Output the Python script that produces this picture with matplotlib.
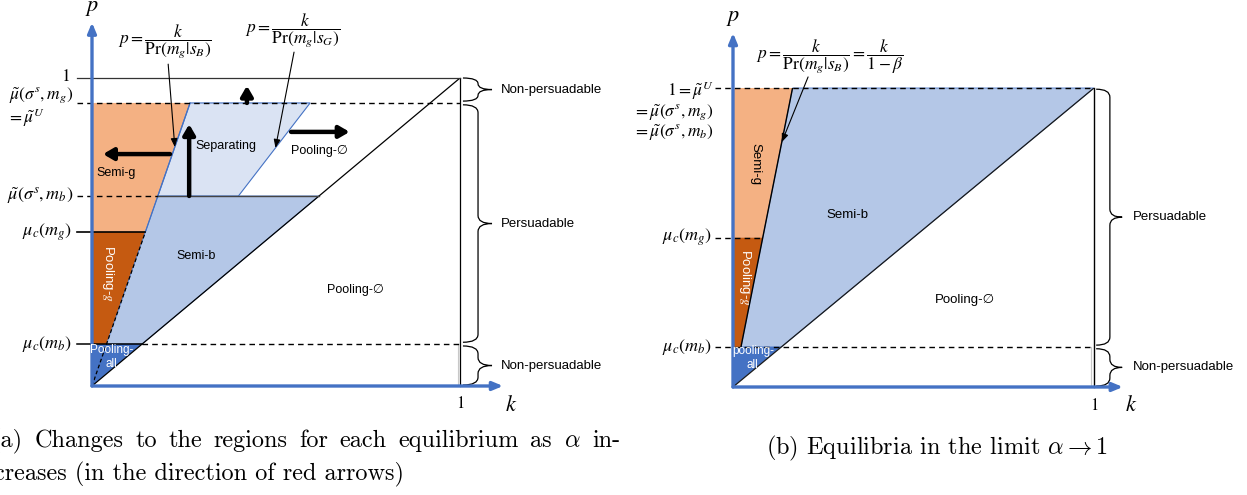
import matplotlib
matplotlib.use("Agg")
import matplotlib.pyplot as plt
from matplotlib.patches import Polygon, PathPatch
from matplotlib.path import Path

plt.rcParams["mathtext.fontset"] = "stix"
plt.rcParams["axes.unicode_minus"] = False

SANS = ["Liberation Sans", "DejaVu Sans"]

# ---- panel (a): levels of p and slopes of the two k-lines
p_one_a = 1.0
mu_U_a = 0.919        # mu~(sigma^s, m_g) = mu~^U
mu_s_mb_a = 0.617     # mu~(sigma^s, m_b)
mu_c_mg_a = 0.50
mu_c_mb_a = 0.136
pr_mg_sB_a = 0.29     # p = k / Pr(m_g|s_B)
pr_mg_sG_a = 0.645    # p = k / Pr(m_g|s_G)

# ---- panel (b): alpha -> 1
mu_U_b = 1.0
mu_c_mg_b = 0.50
mu_c_mb_b = 0.134
pr_mg_sB_b = 0.165    # 1 - beta

C_SEMI_G = "#F4B183"
C_POOL_G = "#C55A11"
C_SEMI_B = "#B4C7E7"
C_SEP = "#DAE3F3"
C_ALL = "#4472C4"
C_AXIS = "#4472C4"

TICK_FS = 13
W, H = 1247, 495
fig = plt.figure(figsize=(W / 100, H / 100), dpi=100)


def poly(ax, pts, fc, ec="none", lw=0.6):
    ax.add_patch(Polygon(pts, closed=True, fc=fc, ec=ec, lw=lw, clip_on=False, zorder=1))


def hline(ax, y, x0, x1, dashed=False, color="black", lw=1.0, z=3):
    ax.plot([x0, x1], [y, y], color=color, lw=lw, ls=(0, (4, 3)) if dashed else "-",
            clip_on=False, zorder=z)


def brace(ax, x0, xs, xt, y_top, y_bot, r):
    r = min(r, (y_top - y_bot) / 4)
    ym = (y_top + y_bot) / 2
    verts = [(x0, y_top), (xs, y_top), (xs, y_top - r),
             (xs, ym + r), (xs, ym), (xt, ym),
             (xs, ym), (xs, ym - r),
             (xs, y_bot + r), (xs, y_bot), (x0, y_bot)]
    codes = [Path.MOVETO, Path.CURVE3, Path.CURVE3,
             Path.LINETO, Path.CURVE3, Path.CURVE3,
             Path.CURVE3, Path.CURVE3,
             Path.LINETO, Path.CURVE3, Path.CURVE3]
    ax.add_patch(PathPatch(Path(verts, codes), fc="none", ec="black", lw=0.9,
                           clip_on=False, zorder=4))
    return ym


def thick_arrow(ax, start, end):
    ax.annotate("", xy=end, xytext=start, annotation_clip=False,
                arrowprops=dict(arrowstyle="-|>,head_width=0.35,head_length=0.6",
                                lw=3.2, color="black", shrinkA=0, shrinkB=0), zorder=6)


def thin_arrow(ax, text, text_xy, start, end, fs=12.5):
    ax.text(*text_xy, text, ha="center", va="center", fontsize=fs)
    ax.annotate("", xy=end, xytext=start, annotation_clip=False,
                arrowprops=dict(arrowstyle="-|>,head_width=0.2,head_length=0.5",
                                lw=0.8, color="black", shrinkA=0, shrinkB=0), zorder=6)


def axes_arrows(ax, ytop, xright):
    ax.annotate("", xy=(0, ytop), xytext=(0, 0), annotation_clip=False,
                arrowprops=dict(arrowstyle="-|>,head_width=0.25,head_length=0.6",
                                lw=2.4, color=C_AXIS, shrinkA=0, shrinkB=0), zorder=5)
    ax.annotate("", xy=(xright, 0), xytext=(0, 0), annotation_clip=False,
                arrowprops=dict(arrowstyle="-|>,head_width=0.25,head_length=0.6",
                                lw=2.4, color=C_AXIS, shrinkA=0, shrinkB=0), zorder=5)


def region_text(ax, x, y, s, color="black", fs=9, rot=0):
    ax.text(x, y, s, ha="center", va="center", fontsize=fs, color=color,
            family=SANS, rotation=rot, linespacing=1.15, zorder=7)


# ===================== panel (a) =====================
ax = fig.add_axes([92 / W, 109 / H, 368 / W, 308 / H])
ax.set_xlim(0, 1)
ax.set_ylim(0, 1)
ax.axis("off")

sB, sG = pr_mg_sB_a, pr_mg_sG_a
poly(ax, [(0, mu_c_mg_a), (0, mu_U_a), (sB * mu_U_a, mu_U_a), (sB * mu_c_mg_a, mu_c_mg_a)], C_SEMI_G)
poly(ax, [(0, mu_c_mb_a), (0, mu_c_mg_a), (sB * mu_c_mg_a, mu_c_mg_a), (sB * mu_c_mb_a, mu_c_mb_a)], C_POOL_G)
poly(ax, [(0, 0), (0, mu_c_mb_a), (mu_c_mb_a, mu_c_mb_a)], C_ALL)
poly(ax, [(sB * mu_c_mb_a, mu_c_mb_a), (mu_c_mb_a, mu_c_mb_a), (mu_s_mb_a, mu_s_mb_a),
          (sB * mu_s_mb_a, mu_s_mb_a)], C_SEMI_B, ec=C_AXIS)
poly(ax, [(sB * mu_s_mb_a, mu_s_mb_a), (sG * mu_s_mb_a, mu_s_mb_a), (sG * mu_U_a, mu_U_a),
          (sB * mu_U_a, mu_U_a)], C_SEP, ec=C_AXIS, lw=0.8)

# k lines
ax.plot([0, sB * mu_c_mg_a], [0, mu_c_mg_a], color="black", lw=0.9, ls=(0, (3, 2)), zorder=3)
ax.plot([sB * mu_c_mg_a, sB * mu_U_a], [mu_c_mg_a, mu_U_a], color=C_AXIS, lw=0.9, zorder=3)
ax.plot([0, 1], [0, 1], color="black", lw=0.9, zorder=3)
ax.plot([1, 1], [0, p_one_a], color="black", lw=0.9, clip_on=False, zorder=3)
ax.plot([0.994, 0.994], [0, mu_c_mb_a], color="#c8c8c8", lw=0.8, zorder=2)

# horizontal levels
hline(ax, p_one_a, -0.04, 1, color="#333333", lw=0.9)
hline(ax, mu_U_a, -0.04, 1, dashed=True)
hline(ax, mu_s_mb_a, -0.04, sB * mu_s_mb_a, dashed=True)
hline(ax, mu_s_mb_a, sB * mu_s_mb_a, mu_s_mb_a, color="#444444", lw=1.0)
hline(ax, mu_c_mg_a, -0.04, sB * mu_c_mg_a, lw=1.2)
hline(ax, mu_c_mb_a, -0.04, mu_c_mb_a, lw=1.1)
hline(ax, mu_c_mb_a, mu_c_mb_a, 1, dashed=True)

axes_arrows(ax, 1.18, 1.117)

# y tick labels
ax.text(-0.06, p_one_a + 0.008, r"$1$", ha="right", va="center", fontsize=12.5)
ax.text(-0.052, mu_U_a + 0.024, r"$\tilde{\mu}(\sigma^s,m_g)$", ha="right", va="center",
        fontsize=12.5)
ax.text(-0.232, mu_U_a - 0.047, r"$=\tilde{\mu}^U$", ha="left", va="center", fontsize=12.5)
ax.text(-0.052, mu_s_mb_a, r"$\tilde{\mu}(\sigma^s,m_b)$", ha="right", va="center", fontsize=TICK_FS)
ax.text(-0.056, mu_c_mg_a, r"$\mu_c(m_g)$", ha="right", va="center", fontsize=TICK_FS)
ax.text(-0.056, mu_c_mb_a, r"$\mu_c(m_b)$", ha="right", va="center", fontsize=TICK_FS)
ax.text(0, 1.227, r"$p$", ha="center", va="center", fontsize=16)
ax.text(1.139, -0.062, r"$k$", ha="center", va="center", fontsize=16)
ax.text(1.0, -0.055, r"$1$", ha="center", va="center", fontsize=12)

# region labels
region_text(ax, 0.065, 0.692, "Semi-g")
region_text(ax, 0.364, 0.779, "Separating")
region_text(ax, 0.617, 0.763, "Pooling-∅")
region_text(ax, 0.283, 0.422, "Semi-b")
region_text(ax, 0.043, 0.367, "Pooling-$g$", color="white", fs=9.5, rot=270)
region_text(ax, 0.054, 0.094, "Pooling-\nall", color="white", fs=8.5)
region_text(ax, 0.715, 0.312, "Pooling-∅")

# arrows showing how regions move
thick_arrow(ax, (0.421, mu_U_a), (0.421, 0.975))
thick_arrow(ax, (0.264, mu_s_mb_a), (0.264, 0.85))
thick_arrow(ax, (0.212, 0.753), (0.03, 0.753))
thick_arrow(ax, (0.541, 0.825), (0.70, 0.825))

thin_arrow(ax, r"$p=\dfrac{k}{\mathrm{Pr}(m_g|s_B)}$", (0.198, 1.117),
           (0.207, 1.045), (sB * 0.776, 0.776))
thin_arrow(ax, r"$p=\dfrac{k}{\mathrm{Pr}(m_g|s_G)}$", (0.545, 1.153),
           (0.549, 1.084), (sG * 0.773, 0.773))

# braces
gap = 0.006
ym = brace(ax, 1.008, 1.049, 1.087, p_one_a, mu_U_a + gap, 0.026)
ax.text(1.111, ym, "Non-persuadable", ha="left", va="center", fontsize=9.5, family=SANS)
ym = brace(ax, 1.008, 1.049, 1.087, mu_U_a - gap, mu_c_mb_a + gap, 0.026)
ax.text(1.111, ym, "Persuadable", ha="left", va="center", fontsize=9.5, family=SANS)
ym = brace(ax, 1.008, 1.049, 1.087, mu_c_mb_a - gap, 0.003, 0.026)
ax.text(1.111, ym, "Non-persuadable", ha="left", va="center", fontsize=9.5, family=SANS)

# ===================== panel (b) =====================
bx = fig.add_axes([733 / W, 108 / H, 361 / W, 299 / H])
bx.set_xlim(0, 1)
bx.set_ylim(0, 1)
bx.axis("off")

sB = pr_mg_sB_b
poly(bx, [(0, mu_c_mg_b), (0, mu_U_b), (sB * mu_U_b, mu_U_b), (sB * mu_c_mg_b, mu_c_mg_b)], C_SEMI_G)
poly(bx, [(0, mu_c_mb_b), (0, mu_c_mg_b), (sB * mu_c_mg_b, mu_c_mg_b), (sB * mu_c_mb_b, mu_c_mb_b)], C_POOL_G)
poly(bx, [(0, 0), (0, mu_c_mb_b), (mu_c_mb_b, mu_c_mb_b)], C_ALL)
poly(bx, [(sB * mu_c_mb_b, mu_c_mb_b), (mu_c_mb_b, mu_c_mb_b), (1, mu_U_b), (sB * mu_U_b, mu_U_b)],
     C_SEMI_B, ec=C_AXIS)

bx.plot([sB * mu_c_mb_b, sB * mu_U_b], [mu_c_mb_b, mu_U_b], color="black", lw=1.0, zorder=3)
bx.plot([0, 1], [0, 1], color="#1a1a1a", lw=0.9, zorder=3)
bx.plot([1, 1], [0, mu_U_b], color="black", lw=1.0, clip_on=False, zorder=3)
bx.plot([0.992, 0.992], [0, mu_c_mb_b], color="#c8c8c8", lw=0.8, zorder=2)

hline(bx, mu_U_b, -0.05, 1, dashed=True)
hline(bx, mu_c_mg_b, -0.05, sB * mu_c_mg_b, dashed=True)
hline(bx, mu_c_mb_b, -0.05, 1, dashed=True)

axes_arrows(bx, 1.184, 1.08)

bx.text(-0.055, mu_U_b - 0.008, r"$1=\tilde{\mu}^U$", ha="right", va="center", fontsize=12.5)
bx.text(-0.055, 0.918, r"$=\tilde{\mu}(\sigma^s,m_g)$", ha="right", va="center", fontsize=12.5)
bx.text(-0.055, 0.850, r"$=\tilde{\mu}(\sigma^s,m_b)$", ha="right", va="center", fontsize=12.5)
bx.text(-0.058, mu_c_mg_b, r"$\mu_c(m_g)$", ha="right", va="center", fontsize=TICK_FS)
bx.text(-0.058, mu_c_mb_b, r"$\mu_c(m_b)$", ha="right", va="center", fontsize=TICK_FS)
bx.text(0, 1.234, r"$p$", ha="center", va="center", fontsize=16)
bx.text(1.102, -0.06, r"$k$", ha="center", va="center", fontsize=16)
bx.text(1.0, -0.06, r"$1$", ha="center", va="center", fontsize=12)

region_text(bx, 0.061, 0.746, "Semi-g", fs=9.5, rot=270)
region_text(bx, 0.316, 0.575, "Semi-b", fs=9.5)
region_text(bx, 0.033, 0.368, "Pooling-$g$", color="white", fs=9.5, rot=270)
region_text(bx, 0.055, 0.097, "pooling-\nall", color="white", fs=8.5)
region_text(bx, 0.643, 0.291, "Pooling-∅", fs=9.5)

thin_arrow(bx, r"$p=\dfrac{k}{\mathrm{Pr}(m_g|s_B)}=\dfrac{k}{1-\beta}$", (0.269, 1.104),
           (0.208, 1.037), (sB * 0.819, 0.819))

ym = brace(bx, 1.006, 1.044, 1.078, mu_U_b - 0.004, mu_c_mb_b + gap, 0.027)
bx.text(1.108, ym, "Persuadable", ha="left", va="center", fontsize=9.5, family=SANS)
ym = brace(bx, 1.006, 1.044, 1.078, mu_c_mb_b - gap, 0.003, 0.027)
bx.text(1.108, ym, "Non-persuadable", ha="left", va="center", fontsize=9.5, family=SANS)

# ===================== captions =====================
CAP = dict(fontsize=17.5, family="cmr10", math_fontfamily="cm", va="center", ha="left")


def justified_line(words, x0, x1, y):
    texts = [fig.text(0, 1 - y / H, w, **CAP) for w in words]
    fig.canvas.draw()
    rend = fig.canvas.get_renderer()
    widths = [t.get_window_extent(rend).width for t in texts]
    space = ((x1 - x0) - sum(widths)) / (len(words) - 1)
    x = x0
    for t, w in zip(texts, widths):
        t.set_x(x / W)
        x += w + space


caption_a1 = ["(a)", "Changes", "to", "the", "regions", "for", "each", "equilibrium", "as",
              r"$\alpha$", "in-"]
justified_line(caption_a1, -8, 620, 441)
fig.text(-6 / W, 1 - 474 / H, "creases (in the direction of red arrows)", **CAP)
fig.text(937 / W, 1 - 448 / H, r"(b) Equilibria in the limit $\alpha\rightarrow 1$",
         **{**CAP, "ha": "center"})

fig.savefig("out.png", dpi=100)
